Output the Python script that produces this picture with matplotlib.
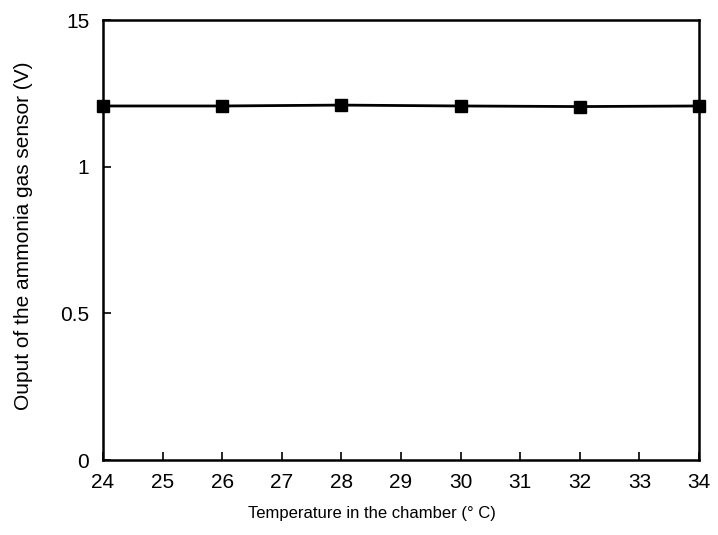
import matplotlib
matplotlib.use("Agg")
import matplotlib.pyplot as plt

temperature = [24, 26, 28, 30, 32, 34]
sensor_output = [1.207, 1.207, 1.21, 1.207, 1.205, 1.207]
x_ticks = [24, 25, 26, 27, 28, 29, 30, 31, 32, 33, 34]
y_ticks = [0, 0.5, 1, 1.5]
y_tick_labels = ["0", "0.5", "1", "15"]

plt.rcParams['font.family'] = ['Liberation Sans', 'DejaVu Sans']

fig = plt.figure(figsize=(7.18, 5.35), dpi=100)
ax = fig.add_axes([0.1435, 0.140, 0.830, 0.8226])
ax.plot(temperature, sensor_output, color='black', linewidth=2, marker='s',
        markersize=8, clip_on=False, zorder=3)
ax.set_xlim(24, 34)
ax.set_ylim(0, 1.5)
ax.set_xticks(x_ticks)
ax.set_yticks(y_ticks)
ax.set_yticklabels(y_tick_labels)
ax.tick_params(direction='in', length=6, width=1.2, labelsize=15)
ax.tick_params(axis='x', pad=9)
ax.tick_params(axis='y', pad=10)
for s in ax.spines.values():
    s.set_linewidth(1.8)
ax.set_xlabel("Temperature in the chamber (° C)", fontsize=12)
ax.set_ylabel("Ouput of the ammonia gas sensor (V)", fontsize=15)
ax.xaxis.set_label_coords(0.451, -0.105)
ax.yaxis.set_label_coords(-0.117, 0.51)
fig.savefig("out.png", dpi=100)
